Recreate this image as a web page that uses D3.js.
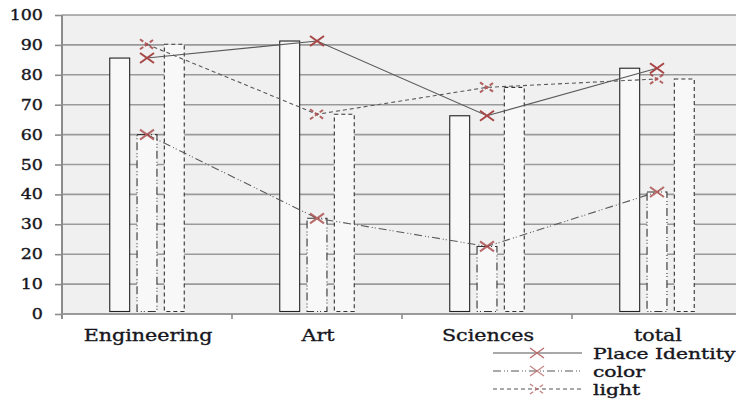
<!DOCTYPE html>
<html>
<head>
<meta charset="utf-8">
<script src="https://cdn.jsdelivr.net/npm/d3@7"></script>
<style>
  html, body { margin: 0; padding: 0; background: #fff; }
  svg { display: block; }
  text { font-family: "DejaVu Serif", serif; fill: #161620; stroke: #161620; stroke-width: 0.35px; }
</style>
</head>
<body>
<svg id="chart" width="736" height="399"></svg>
<script>
// Survey scores per faculty
const categories = ["Engineering", "Art", "Sciences", "total"];
const seriesNames = ["Place Identity", "color", "light"];
const placeIdentity = [85.6, 91.3, 66.3, 82.2];
const color = [60, 32, 22.6, 40.8];
const light = [90.2, 66.8, 75.8, 78.6];
const yTicks = [0, 10, 20, 30, 40, 50, 60, 70, 80, 90, 100];

const seriesValues = { "Place Identity": placeIdentity, "color": color, "light": light };
const dashes = { "Place Identity": null, "color": "8,3,1,2,1,3", "light": "4,3" };
const markerDash = { "Place Identity": null, "color": null, "light": "4,2" };
const markerOpacity = { "Place Identity": 1, "color": 0.8, "light": 0.85 };

// wide serif lettering: glyphs are stretched horizontally
const stretch = 1.25;

const svg = d3.select("#chart");
const plotLeft = 62, plotRight = 742, plotTop = 15, plotBottom = 314;

const y = d3.scaleLinear().domain([0, 100]).range([plotBottom, plotTop]);
const x0 = d3.scaleBand().domain(categories).range([plotLeft, plotRight]).padding(0);
const x1 = d3.scaleBand().domain(seriesNames).range([0, x0.bandwidth()])
  .paddingInner(0.27).paddingOuter(1.75);

// plot background
svg.append("rect").attr("x", plotLeft).attr("y", plotTop)
  .attr("width", plotRight - plotLeft).attr("height", plotBottom - plotTop).attr("fill", "#f0f0f0");

// horizontal gridlines
svg.append("g").selectAll("line").data(yTicks.slice(1)).join("line")
  .attr("x1", plotLeft).attr("x2", plotRight)
  .attr("y1", d => y(d)).attr("y2", d => y(d))
  .attr("stroke", "#9a9a9a").attr("stroke-width", 1.6);

// y axis: line and ticks from d3, labels placed with stretched glyphs
const yAxis = svg.append("g").attr("transform", `translate(${plotLeft},0)`)
  .call(d3.axisLeft(y).tickValues(yTicks).tickSize(7).tickFormat(""));
yAxis.select(".domain").attr("stroke", "#8c8c8c").attr("stroke-width", 2)
  .attr("d", `M0,${plotTop}V${plotBottom + 5}`);
yAxis.selectAll(".tick line").attr("stroke", "#8c8c8c").attr("stroke-width", 1.6);
svg.append("g").selectAll("text").data(yTicks).join("text")
  .attr("transform", d => `translate(43,${y(d)}) scale(${stretch},1)`)
  .attr("text-anchor", "end").attr("dy", "0.36em")
  .attr("font-size", 14).text(d => d);

// x axis
const xAxis = svg.append("g").attr("transform", `translate(0,${plotBottom})`);
xAxis.append("line").attr("x1", plotLeft).attr("x2", plotRight)
  .attr("stroke", "#9a9a9a").attr("stroke-width", 2);
xAxis.selectAll(".tk").data(categories.slice(1)).join("line").attr("class", "tk")
  .attr("x1", d => x0(d)).attr("x2", d => x0(d)).attr("y1", 0).attr("y2", 5)
  .attr("stroke", "#8c8c8c").attr("stroke-width", 1.6);
xAxis.selectAll("text").data(categories).join("text")
  .attr("transform", d => `translate(${x0(d) + x0.bandwidth() / 2 + 1},26.5) scale(${stretch},1)`)
  .attr("text-anchor", "middle").attr("font-size", 16.5)
  .text(d => d);

// bars
const bars = svg.append("g");
seriesNames.forEach(s => {
  bars.selectAll(null).data(categories).join("rect")
    .attr("x", d => x0(d) + x1(s))
    .attr("width", x1.bandwidth())
    .attr("y", (d, i) => y(seriesValues[s][i]))
    .attr("height", (d, i) => y(0) - y(seriesValues[s][i]) - 2.5)
    .attr("fill", "#f8f8f8")
    .attr("stroke", s === "Place Identity" ? "#222" : "#333")
    .attr("stroke-width", 1.1)
    .attr("stroke-dasharray", dashes[s]);
});

// lines with cross markers at category centres
const cx = d => x0(d) + x0.bandwidth() / 2;
const crossPath = "M-7,-5L7,5M-7,5L7,-5";
seriesNames.forEach(s => {
  const vals = seriesValues[s];
  const line = d3.line().x((d, i) => cx(categories[i])).y(d => y(d));
  svg.append("path").datum(vals).attr("d", line)
    .attr("fill", "none").attr("stroke", "#5a5a5a").attr("stroke-width", 1.1)
    .attr("stroke-dasharray", dashes[s]);
});
seriesNames.forEach(s => {
  const vals = seriesValues[s];
  svg.append("g").selectAll("path").data(vals).join("path")
    .attr("transform", (d, i) => `translate(${cx(categories[i])},${y(d)})`)
    .attr("d", crossPath).attr("fill", "none")
    .attr("stroke", "#a84646").attr("stroke-width", 2)
    .attr("stroke-opacity", markerOpacity[s])
    .attr("stroke-dasharray", markerDash[s]);
});

// legend
const legend = svg.append("g").attr("transform", "translate(493,353)");
seriesNames.forEach((s, i) => {
  const g = legend.append("g").attr("transform", `translate(0,${i * 18})`);
  g.append("line").attr("x1", 0).attr("x2", 89).attr("y1", 0).attr("y2", 0)
    .attr("stroke", "#555").attr("stroke-width", 1.1)
    .attr("stroke-dasharray", dashes[s]);
  g.append("path").attr("transform", "translate(44,0)").attr("d", crossPath)
    .attr("fill", "none").attr("stroke", "#b86a6a").attr("stroke-width", 1.3)
    .attr("stroke-opacity", markerOpacity[s]).attr("stroke-dasharray", markerDash[s]);
  g.append("text").attr("transform", `translate(100,5.5) scale(1.4,1)`)
    .attr("font-size", 14.5).text(s);
});
</script>
</body>
</html>
